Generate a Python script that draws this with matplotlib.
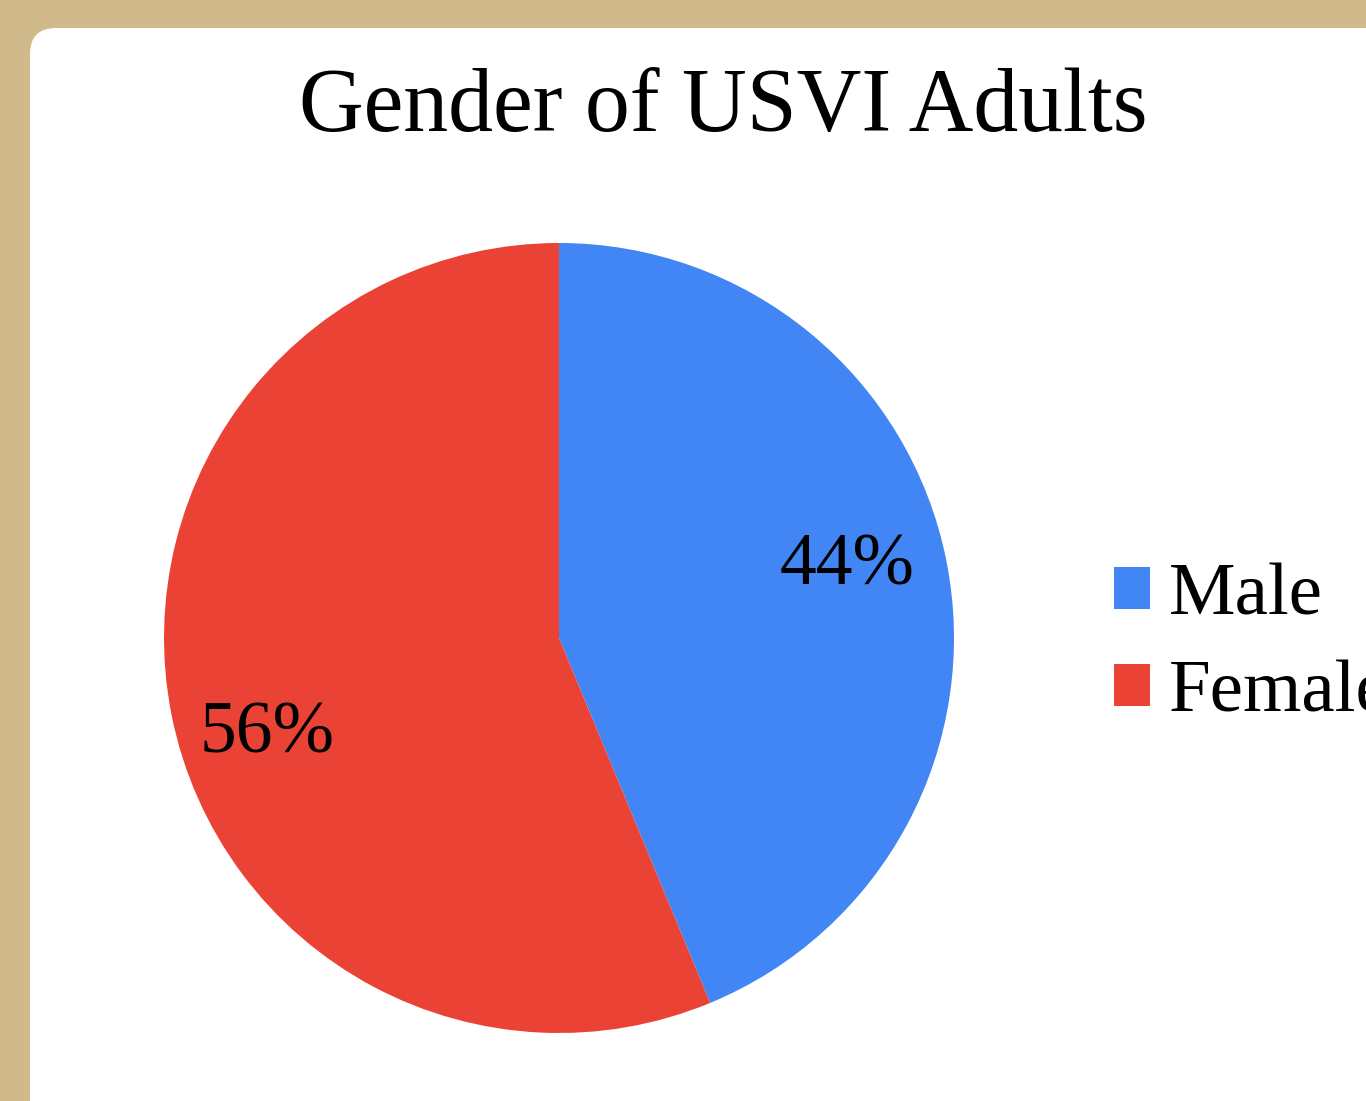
import matplotlib
matplotlib.use("Agg")
import matplotlib.pyplot as plt
from matplotlib.patches import FancyBboxPatch, Patch

plt.rcParams['font.family'] = ['Liberation Serif', 'DejaVu Serif']

title = "Gender of USVI Adults"
labels = ["Male", "Female"]
values = [43.75, 56.25]
colors = ["#4285F4", "#EA4335"]

W, H = 1366, 1101
fig = plt.figure(figsize=(W / 100, H / 100), dpi=100)
fig.patch.set_facecolor("#D0B98A")

# white rounded panel
bg = fig.add_axes([0, 0, 1, 1])
bg.set_xlim(0, W)
bg.set_ylim(H, 0)
bg.axis("off")
bg.add_patch(FancyBboxPatch((30, 28), 1500, 1200,
                            boxstyle="round,pad=0,rounding_size=26",
                            fc="white", ec="none"))

fig.text(723 / W, 1 - 109 / H, title, ha="center", va="center", fontsize=64.5)

# pie: centre (559, 638), radius 395 px
cx, cy, r = 559, 638, 395
ax = fig.add_axes([(cx - r) / W, (H - cy - r) / H, 2 * r / W, 2 * r / H])
wedges, texts, autotexts = ax.pie(values, colors=colors, startangle=90, counterclock=False,
                                  autopct="%.0f%%", pctdistance=0.75, radius=1,
                                  wedgeprops=dict(linewidth=0),
                                  textprops=dict(fontsize=53, color="black"))
# label placement like the source chart (in pie radius units)
label_pos = [(0.73, 0.18), (-0.74, -0.245)]
for t, p in zip(autotexts, label_pos):
    t.set_position(p)
ax.set_xlim(-1, 1)
ax.set_ylim(-1, 1)
ax.set_aspect("equal")

handles = [Patch(facecolor=c, edgecolor="none") for c in colors]
fig.legend(handles, labels, loc="upper left", bbox_to_anchor=(1114 / W, 1 - 563 / H),
           frameon=False, fontsize=54, handlelength=0.48, handleheight=0.48,
           handletextpad=0.25, labelspacing=0.4, borderpad=0, borderaxespad=0)

fig.savefig("out.png", dpi=100, facecolor=fig.get_facecolor())
